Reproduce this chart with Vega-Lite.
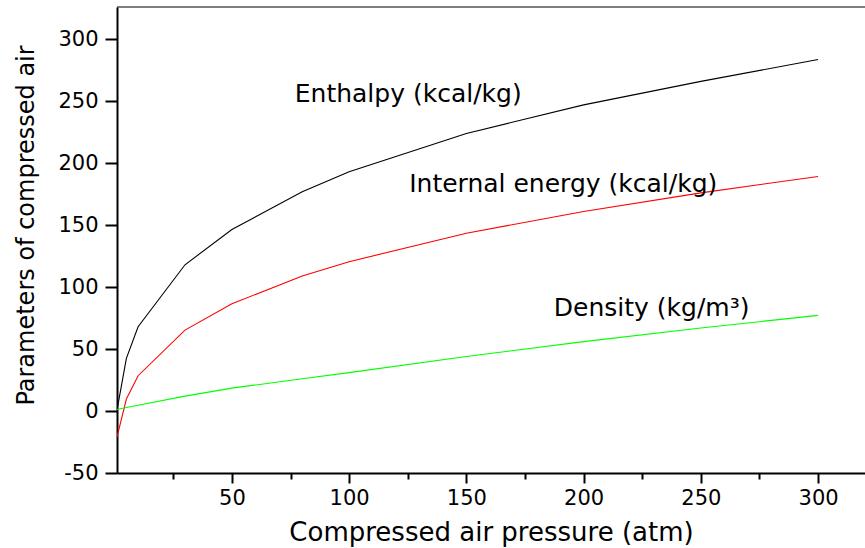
{
  "$schema": "https://vega.github.io/schema/vega-lite/v6.json",
  "autosize": {"type": "none"},
  "width": 748,
  "height": 466,
  "padding": {"left": 117, "top": 7, "right": 0, "bottom": 75},
  "background": "white",
  "config": {
    "view": {"stroke": null},
    "font": "DejaVu Sans",
    "axis": {
      "domainColor": "black",
      "domainWidth": 2,
      "tickColor": "black",
      "tickWidth": 2,
      "grid": false,
      "labelFont": "DejaVu Sans",
      "labelFontSize": 21,
      "labelColor": "black",
      "titleFont": "DejaVu Sans",
      "titleFontWeight": "normal",
      "titleColor": "black"
    }
  },
  "datasets": {
    "curves": [
      {"p": 1, "value": 0.8, "series": "Enthalpy"},
      {"p": 5, "value": 42.5, "series": "Enthalpy"},
      {"p": 10, "value": 68, "series": "Enthalpy"},
      {"p": 30, "value": 118, "series": "Enthalpy"},
      {"p": 50, "value": 146.5, "series": "Enthalpy"},
      {"p": 80, "value": 177, "series": "Enthalpy"},
      {"p": 100, "value": 193, "series": "Enthalpy"},
      {"p": 150, "value": 224, "series": "Enthalpy"},
      {"p": 200, "value": 247, "series": "Enthalpy"},
      {"p": 250, "value": 266, "series": "Enthalpy"},
      {"p": 300, "value": 283.6, "series": "Enthalpy"},
      {"p": 1, "value": -21, "series": "Internal energy"},
      {"p": 5, "value": 9.7, "series": "Internal energy"},
      {"p": 10, "value": 28.5, "series": "Internal energy"},
      {"p": 30, "value": 65.3, "series": "Internal energy"},
      {"p": 50, "value": 86.5, "series": "Internal energy"},
      {"p": 80, "value": 109, "series": "Internal energy"},
      {"p": 100, "value": 120.5, "series": "Internal energy"},
      {"p": 150, "value": 143.5, "series": "Internal energy"},
      {"p": 200, "value": 161, "series": "Internal energy"},
      {"p": 250, "value": 176, "series": "Internal energy"},
      {"p": 300, "value": 189.3, "series": "Internal energy"},
      {"p": 1, "value": 1.2, "series": "Density"},
      {"p": 5, "value": 2.8, "series": "Density"},
      {"p": 10, "value": 4.6, "series": "Density"},
      {"p": 30, "value": 12, "series": "Density"},
      {"p": 50, "value": 18.5, "series": "Density"},
      {"p": 80, "value": 26, "series": "Density"},
      {"p": 100, "value": 31, "series": "Density"},
      {"p": 150, "value": 44, "series": "Density"},
      {"p": 200, "value": 56, "series": "Density"},
      {"p": 250, "value": 67, "series": "Density"},
      {"p": 300, "value": 77.2, "series": "Density"}
    ],
    "labels": [
      {"p": 76.8, "value": 249, "label": "Enthalpy (kcal/kg)"},
      {"p": 125.6, "value": 176.4, "label": "Internal energy (kcal/kg)"},
      {"p": 187.3, "value": 76.6, "label": "Density (kg/m³)"}
    ]
  },
  "layer": [
    {
      "data": {"name": "curves"},
      "mark": {"type": "line", "strokeWidth": 1.1, "clip": true},
      "encoding": {
        "x": {
          "field": "p",
          "type": "quantitative",
          "scale": {"domain": [1, 320], "nice": false, "zero": false},
          "axis": {
            "orient": "bottom",
            "values": [25, 50, 75, 100, 125, 150, 175, 200, 225, 250, 275, 300],
            "labelExpr": "datum.value % 50 === 0 ? '' + datum.value : ''",
            "tickSize": {"condition": {"test": "datum.value % 50 === 0", "value": 10}, "value": 6},
            "labelPadding": 4,
            "title": "Compressed air pressure (atm)",
            "titleFontSize": 26,
            "titlePadding": 11
          }
        },
        "y": {
          "field": "value",
          "type": "quantitative",
          "scale": {"domain": [-50, 326], "nice": false, "zero": false},
          "axis": {
            "values": [-50, -25, 0, 25, 50, 75, 100, 125, 150, 175, 200, 225, 250, 275, 300],
            "labelExpr": "datum.value % 50 === 0 ? '' + datum.value : ''",
            "tickSize": {"condition": {"test": "datum.value % 50 === 0", "value": 12}, "value": 7},
            "labelPadding": 7,
            "title": "Parameters of compressed air",
            "titleFontSize": 24,
            "titlePadding": 19,
            "titleY": 218
          }
        },
        "color": {
          "field": "series",
          "type": "nominal",
          "scale": {"domain": ["Enthalpy", "Internal energy", "Density"], "range": ["#000000", "#ff0000", "#00ff00"]},
          "legend": null
        }
      }
    },
    {
      "data": {"values": [{"top": 326}]},
      "mark": {"type": "rule", "color": "black", "strokeWidth": 1},
      "encoding": {"y": {"field": "top", "type": "quantitative"}}
    },
    {
      "data": {"name": "labels"},
      "mark": {"type": "text", "align": "left", "baseline": "alphabetic", "fontSize": 25, "color": "black"},
      "encoding": {
        "x": {"field": "p", "type": "quantitative"},
        "y": {"field": "value", "type": "quantitative"},
        "text": {"field": "label"}
      }
    }
  ]
}
